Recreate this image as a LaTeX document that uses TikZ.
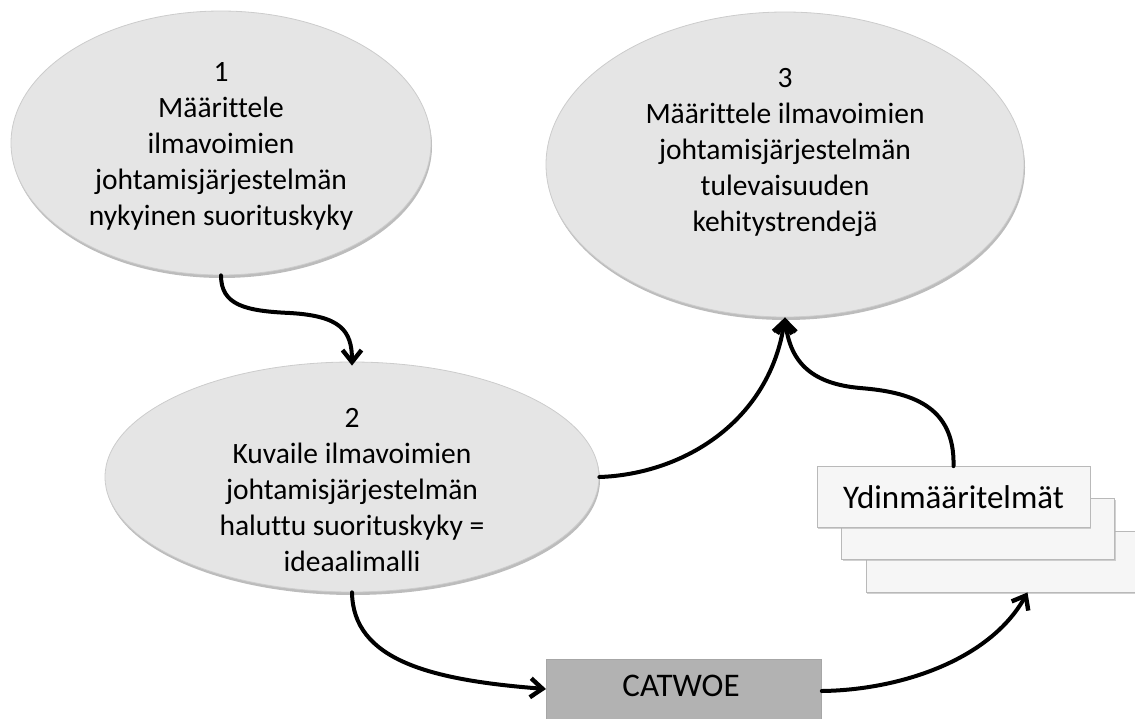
\documentclass[tikz,border=0pt]{standalone}
\usepackage{fontspec}
\setmainfont{Carlito}[Ligatures=NoCommon]
\usetikzlibrary{shapes.geometric,arrows.meta,shadows}

\tikzset{
  phase/.style={ellipse, inner sep=0pt, fill=gray!20, draw=gray!40, line width=0.8pt,
    drop shadow={shadow xshift=1pt, shadow yshift=-3pt, fill=gray!75, opacity=0.7}},
  phasetext/.style={align=center, inner sep=0pt, font=\fontsize{29.5}{36}\selectfont},
  card/.style={rectangle, inner sep=0pt, minimum width=273pt, minimum height=61pt,
    fill=gray!7, draw=gray!55, line width=0.8pt,
    drop shadow={shadow xshift=1pt, shadow yshift=-1.5pt, fill=gray!60, opacity=0.6},
    font=\fontsize{33}{40}\selectfont},
  toolbox/.style={rectangle, inner sep=0pt, minimum width=275pt, minimum height=70pt,
    fill=gray!60, draw=gray!70, line width=0.8pt,
    drop shadow={shadow xshift=1pt, shadow yshift=-1.5pt, fill=gray!80, opacity=0.6},
    font=\fontsize{33}{40}\selectfont},
  flow/.style={line width=4pt, line cap=round,
    -{Straight Barb[length=12pt, width=19pt, line width=4.4pt]}}
}

\begin{document}
\begin{tikzpicture}[x=1pt, y=-1pt]
\useasboundingbox (0,0) rectangle (1135,718);

% the three phases
\node[phase, minimum width=420pt, minimum height=264pt] (e1) at (221,143) {};
\node[phase, minimum width=478pt, minimum height=305pt] (e3) at (785,164.5) {};
\node[phase, minimum width=494pt, minimum height=230pt] (e2) at (352,477) {};

\node[phasetext] (t1) at (221,146) {1\\Määrittele\\ilmavoimien\\johtamisjärjestelmän\\nykyinen suorituskyky};
\node[phasetext] (t3) at (785,152) {3\\Määrittele ilmavoimien\\johtamisjärjestelmän\\tulevaisuuden\\kehitystrendejä};
\node[phasetext] (t2) at (352,490) {2\\Kuvaile ilmavoimien\\johtamisjärjestelmän\\haluttu suorituskyky =\\ideaalimalli};

% stacked cards, back to front
\node[card] (c3) at (1002.5,561.5) {};
\node[card] (c2) at (978,528.5) {};
\node[card] (c1) at (953.5,497) {Ydinmääritelmät};

% CATWOE tool
\node[toolbox, anchor=north west] (cat) at (546,659) {};
\node[font=\fontsize{33}{40}\selectfont, inner sep=0pt] (catlabel) at (681,686) {CATWOE};

% flow between the steps
\draw[flow] (e1.south) .. controls (221,305) and (245,311) .. (290,313)
  .. controls (340,316) and (352,330) .. ([yshift=-4pt]e2.north);
\draw[flow] (e2.east) .. controls (685,474) and (770,420) .. (e3.south);
\draw[flow] (c1.north) .. controls (955,405) and (910,392) .. (860,388)
  .. controls (815,384) and (790,365) .. (e3.south);
\draw[flow] (e2.south) .. controls (353,660) and (430,680) .. (cat.west |- 0,689);
\draw[flow] (cat.east |- 0,691) .. controls (900,690) and (990,660) .. ([xshift=25pt]c3.south);
\end{tikzpicture}
\end{document}
